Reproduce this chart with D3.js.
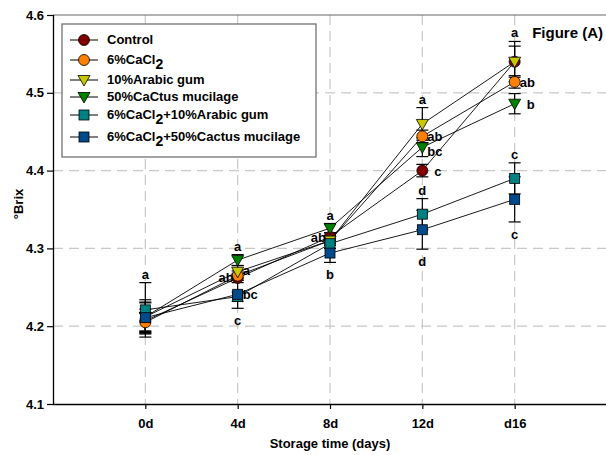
<!DOCTYPE html>
<html><head><meta charset="utf-8">
<script src="https://cdn.jsdelivr.net/npm/d3@7"></script>
<style>body{margin:0;background:#fff;}text{font-family:Arial,"Liberation Sans",sans-serif;font-weight:bold;}</style>
</head><body><svg id="c" width="606" height="455"></svg>
<script>
const days = ["0d","4d","8d","12d","d16"];
const yTicks = [4.1,4.2,4.3,4.4,4.5,4.6];
const seriesNames = ["Control","6%CaCl2","10%Arabic gum","50%CaCtus mucilage","6%CaCl2+10%Arabic gum","6%CaCl2+50%Cactus mucilage"];
const control    = [4.207,4.262,4.315,4.400,4.540];
const cacl2      = [4.205,4.265,4.310,4.444,4.514];
const arabic     = [4.212,4.270,4.310,4.460,4.540];
const cactus     = [4.212,4.285,4.326,4.430,4.486];
const cacl2Ag    = [4.221,4.238,4.306,4.344,4.390];
const cacl2Cm    = [4.211,4.241,4.294,4.324,4.363];
const seControl  = [0.015,0.006,0.005,0.008,0.020];
const seCacl2    = [0.012,0.006,0.006,0.008,0.008];
const seArabic   = [0.022,0.008,0.006,0.021,0.026];
const seCactus   = [0.018,0.007,0.006,0.012,0.013];
const seCacl2Ag  = [0.035,0.006,0.006,0.020,0.020];
const seCacl2Cm  = [0.020,0.018,0.012,0.025,0.029];
const letterLabels = [
  {d:0, t:"a", v:4.256, pos:"above"},
  {d:1, t:"a", v:4.292, pos:"above"},
  {d:1, t:"ab", v:4.263, pos:"left"},
  {d:1, t:"a", v:4.272, pos:"right"},
  {d:1, t:"bc", v:4.241, pos:"right"},
  {d:1, t:"c", v:4.223, pos:"below"},
  {d:2, t:"a", v:4.332, pos:"above"},
  {d:2, t:"ab", v:4.315, pos:"left"},
  {d:2, t:"b", v:4.282, pos:"below"},
  {d:3, t:"a", v:4.481, pos:"above"},
  {d:3, t:"ab", v:4.444, pos:"right"},
  {d:3, t:"bc", v:4.425, pos:"right"},
  {d:3, t:"c", v:4.400, pos:"rightfar"},
  {d:3, t:"d", v:4.364, pos:"above"},
  {d:3, t:"d", v:4.299, pos:"below"},
  {d:4, t:"a", v:4.566, pos:"above"},
  {d:4, t:"ab", v:4.514, pos:"right"},
  {d:4, t:"b", v:4.486, pos:"rightfar"},
  {d:4, t:"c", v:4.410, pos:"above"},
  {d:4, t:"c", v:4.334, pos:"below"}
];

const colors = ["#800000","#ff8000","#c8c800","#008000","#008080","#004a8c"];
const shapes = ["circle","circle","triDown","triDown","square","square"];
const values = [control,cacl2,arabic,cactus,cacl2Ag,cacl2Cm];
const ses = [seControl,seCacl2,seArabic,seCactus,seCacl2Ag,seCacl2Cm];

const svg = d3.select("#c");
const x = d3.scaleLinear().domain([-1,5]).range([53,607]);
const y = d3.scaleLinear().domain([4.1,4.6]).range([404,15]);

// grid
const g = svg.append("g");
g.selectAll(".hg").data([4.2,4.3,4.4,4.5]).enter().append("line")
  .attr("x1",53).attr("x2",606).attr("y1",d=>y(d)).attr("y2",d=>y(d))
  .attr("stroke","#c8c8c8").attr("stroke-width",1.2).attr("stroke-dasharray","10,6");
g.selectAll(".vg").data(d3.range(days.length)).enter().append("line")
  .attr("x1",d=>x(d)).attr("x2",d=>x(d)).attr("y1",15).attr("y2",404)
  .attr("stroke","#c8c8c8").attr("stroke-width",1.2).attr("stroke-dasharray","10,6");
// top border
svg.append("line").attr("x1",53).attr("x2",606).attr("y1",15).attr("y2",15).attr("stroke","#666").attr("stroke-width",1.2);

// axes
const yAxis = d3.axisLeft(y).tickValues(yTicks).tickFormat(d3.format(".1f")).tickSize(6).tickPadding(3);
const ya = svg.append("g").attr("transform","translate(53,0)").call(yAxis);
const xAxis = d3.axisBottom(x).tickValues(d3.range(days.length)).tickFormat(i=>days[i]).tickSize(5).tickPadding(10);
const xa = svg.append("g").attr("transform","translate(0,404)").call(xAxis);
[ya,xa].forEach(a=>{
  a.select(".domain").attr("stroke","#000").attr("stroke-width",1.3);
  a.selectAll(".tick line").attr("stroke","#000").attr("stroke-width",1.2);
  a.selectAll("text").attr("font-size",13).attr("fill","#000").attr("font-family","Arial,'Liberation Sans',sans-serif").attr("font-weight","bold");
});
xa.select(".domain").attr("d","M53,0.5H606");
ya.select(".domain").attr("d","M0.5,15V404");

svg.append("text").attr("x",330).attr("y",448).attr("text-anchor","middle").attr("font-size",13).text("Storage time (days)");
svg.append("text").attr("transform","translate(23,204) rotate(-90)").attr("text-anchor","middle").attr("font-size",13).text("°Brix");

// lines
const line = d3.line().x((d,i)=>x(i)).y(d=>y(d));
values.forEach(v=>{
  svg.append("path").attr("d",line(v)).attr("fill","none").attr("stroke","#000").attr("stroke-width",0.9);
});
// error bars
values.forEach((v,s)=>{
  v.forEach((val,i)=>{
    const e = ses[s][i];
    const eb = svg.append("g").attr("stroke","#000").attr("stroke-width",1.2);
    eb.append("line").attr("x1",x(i)).attr("x2",x(i)).attr("y1",y(val+e)).attr("y2",y(val-e));
    [val+e,val-e].forEach(c=>eb.append("line").attr("x1",x(i)-6).attr("x2",x(i)+6).attr("y1",y(c)).attr("y2",y(c)));
  });
});
function marker(sel,shape,cx,cy,color){
  if(shape==="circle"){
    sel.append("circle").attr("cx",cx).attr("cy",cy).attr("r",5.5).attr("fill",color).attr("stroke","#000").attr("stroke-width",0.8);
  } else if(shape==="triDown"){
    sel.append("path").attr("d",`M${cx-6},${cy-4.5}L${cx+6},${cy-4.5}L${cx},${cy+6}Z`).attr("fill",color).attr("stroke","#000").attr("stroke-width",0.8);
  } else {
    sel.append("rect").attr("x",cx-5).attr("y",cy-5).attr("width",10).attr("height",10).attr("fill",color).attr("stroke","#000").attr("stroke-width",0.8);
  }
}
values.forEach((v,s)=>{
  v.forEach((val,i)=>marker(svg,shapes[s],x(i),y(val),colors[s]));
});

// letters
letterLabels.forEach(L=>{
  const cx = x(L.d), cy = y(L.v);
  let tx=cx, ty=cy, anchor="middle";
  if(L.pos==="above"){ty=cy-4;}
  else if(L.pos==="below"){ty=cy+17;}
  else if(L.pos==="left"){tx=cx-4;ty=cy+5;anchor="end";}
  else if(L.pos==="right"){tx=cx+5;ty=cy+5;anchor="start";}
  else if(L.pos==="rightfar"){tx=cx+12;ty=cy+5;anchor="start";}
  svg.append("text").attr("x",tx).attr("y",ty).attr("text-anchor",anchor).attr("font-size",13).attr("fill","#000").text(L.t);
});

svg.append("text").attr("x",603).attr("y",38).attr("text-anchor","end").attr("font-size",15).text("Figure (A)");

// legend
const lg = svg.append("g");
lg.append("rect").attr("x",62).attr("y",24).attr("width",254).attr("height",133).attr("fill","#fff").attr("stroke","#666").attr("stroke-width",1.2);
const rowY = [40,60,80,97,115,137];
seriesNames.forEach((n,s)=>{
  const yy = rowY[s];
  lg.append("line").attr("x1",70).attr("x2",98).attr("y1",yy).attr("y2",yy).attr("stroke","#000").attr("stroke-width",1);
  marker(lg,shapes[s],84,yy,colors[s]);
  const t = lg.append("text").attr("x",107).attr("y",yy+4).attr("font-size",13);
  const parts = n.split("CaCl2");
  parts.forEach((p,k)=>{
    if(k>0){
      t.append("tspan").text("CaCl");
      t.append("tspan").attr("dy",5).attr("font-size",14).text("2");
      t.append("tspan").attr("dy",-5).text(p);
    } else t.append("tspan").text(p);
  });
});
</script></body></html>
